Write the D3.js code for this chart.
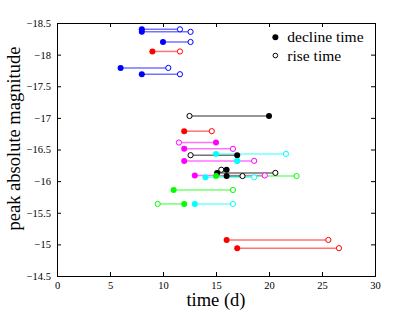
<!DOCTYPE html>
<html lang="en">
<head>
    <meta charset="UTF-8">
    <title>Peak magnitude vs rise and decline time</title>
    <script src="https://d3js.org/d3.v7.min.js"></script>
    <style>
        * { margin: 0; padding: 0; }
        body { background: #ffffff; font-family: 'Liberation Serif', 'DejaVu Serif', serif; }
        .axis path, .axis line { stroke: #000; }
    </style>
</head>
<body>
    <div id="chart"></div>

    <script>
        // one entry per object: peak magnitude, decline time, rise time, colour
        const magnitudes = [-18.40, -18.36, -18.20, -18.05, -17.79, -17.69, -17.03, -16.79, -16.61, -16.51,
                            -16.41, -16.43, -16.32, -16.32, -16.18, -16.13, -16.08, -16.09, -16.08, -16.06,
                            -15.86, -15.64, -15.64, -15.07, -14.94];
        const declineTimes = [8.0, 8.0, 10.0, 9.0, 6.0, 8.0, 20.0, 12.0, 15.0, 12.0,
                              17.0, 15.0, 12.0, 17.0, 16.0, 15.1, 16.0, 13.0, 15.0, 14.0,
                              11.0, 12.0, 13.0, 16.0, 17.0];
        const riseTimes = [11.6, 12.6, 12.6, 11.6, 10.5, 11.6, 12.5, 14.6, 11.5, 16.6,
                           12.6, 21.6, 18.6, 17.0, 15.5, 20.6, 17.5, 19.6, 22.6, 18.6,
                           16.6, 9.5, 16.6, 25.6, 26.6];
        const colorNames = ['blue', 'blue', 'blue', 'red', 'blue', 'blue', 'black', 'red', 'magenta', 'magenta',
                            'black', 'cyan', 'magenta', 'cyan', 'black', 'black', 'black', 'magenta', 'green', 'cyan',
                            'green', 'green', 'cyan', 'red', 'red'];

        const xTicks = [0, 5, 10, 15, 20, 25, 30];
        const yTicks = [-18.5, -18, -17.5, -17, -16.5, -16, -15.5, -15, -14.5];
        const legendLabels = ['decline time', 'rise time'];

        const palette = {
            blue: '#0000ff', red: '#ff0000', magenta: '#ff00ff',
            cyan: '#00ffff', green: '#00ff00', black: '#000000'
        };

        const rows = magnitudes.map((m, i) => ({
            mag: m,
            decline: declineTimes[i],
            rise: riseTimes[i],
            color: palette[colorNames[i]]
        }));

        const margin = {top: 23, right: 40, bottom: 36, left: 57};
        const width = 415 - margin.left - margin.right;
        const height = 312 - margin.top - margin.bottom;

        const svg = d3.select('#chart')
            .append('svg')
            .attr('width', 415)
            .attr('height', 312)
            .append('g')
            .attr('transform', `translate(${margin.left},${margin.top})`);

        const x = d3.scaleLinear().domain([0, 30]).range([0, width]);
        const y = d3.scaleLinear().domain([-18.5, -14.5]).range([0, height]);

        const fmt = d => (d < 0 ? '\u2212' : '') + Math.abs(d);

        // axes with inward ticks, mirrored on top and right
        const xAxis = svg.append('g').attr('class', 'axis')
            .attr('transform', `translate(0,${height})`)
            .call(d3.axisBottom(x).tickValues(xTicks).tickSize(-4).tickPadding(6).tickFormat(d3.format('d')));
        svg.append('g').attr('class', 'axis')
            .call(d3.axisTop(x).tickValues(xTicks).tickSize(-4).tickFormat(''));
        const yAxis = svg.append('g').attr('class', 'axis')
            .call(d3.axisLeft(y).tickValues(yTicks).tickSize(-4).tickPadding(6).tickFormat(fmt));
        svg.append('g').attr('class', 'axis')
            .attr('transform', `translate(${width},0)`)
            .call(d3.axisRight(y).tickValues(yTicks).tickSize(-4).tickFormat(''));
        svg.selectAll('.axis').attr('font-family', 'Liberation Serif, serif').attr('font-size', 10.5);

        // connecting lines
        svg.selectAll('.link')
            .data(rows)
            .enter()
            .append('line')
            .attr('class', 'link')
            .attr('x1', d => x(d.decline))
            .attr('x2', d => x(d.rise))
            .attr('y1', d => y(d.mag))
            .attr('y2', d => y(d.mag))
            .attr('stroke', d => d.color)
            .attr('stroke-opacity', 0.55)
            .attr('stroke-width', 1.5);

        // rise time (open circles)
        svg.selectAll('.rise')
            .data(rows)
            .enter()
            .append('circle')
            .attr('class', 'rise')
            .attr('cx', d => x(d.rise))
            .attr('cy', d => y(d.mag))
            .attr('r', 2.6)
            .attr('fill', 'white')
            .attr('stroke', d => d.color)
            .attr('stroke-width', 1);

        // decline time (filled circles)
        svg.selectAll('.decline')
            .data(rows)
            .enter()
            .append('circle')
            .attr('class', 'decline')
            .attr('cx', d => x(d.decline))
            .attr('cy', d => y(d.mag))
            .attr('r', 3)
            .attr('fill', d => d.color);

        // legend
        const legend = svg.append('g').attr('transform', `translate(${x(20.6)},${y(-18.275)})`);
        legend.append('circle').attr('cx', 0).attr('cy', 0).attr('r', 3).attr('fill', '#000');
        legend.append('circle').attr('cx', 0).attr('cy', 18.3).attr('r', 2.3)
            .attr('fill', 'white').attr('stroke', '#000').attr('stroke-width', 1);
        legend.selectAll('text')
            .data(legendLabels)
            .enter()
            .append('text')
            .attr('x', 12)
            .attr('y', (d, i) => i * 18.3 + 5)
            .style('font-size', '15.5px')
            .text(d => d);

        // axis titles
        svg.append('text')
            .attr('x', width / 2)
            .attr('y', height + 30)
            .attr('text-anchor', 'middle')
            .style('font-size', '18.5px')
            .text('time (d)');
        svg.append('text')
            .attr('transform', `translate(${20 - margin.left},${height / 2 - 11}) rotate(-90)`)
            .attr('text-anchor', 'middle')
            .style('font-size', '18.5px')
            .text('peak absolute magnitude');
    </script>
</body>
</html>
